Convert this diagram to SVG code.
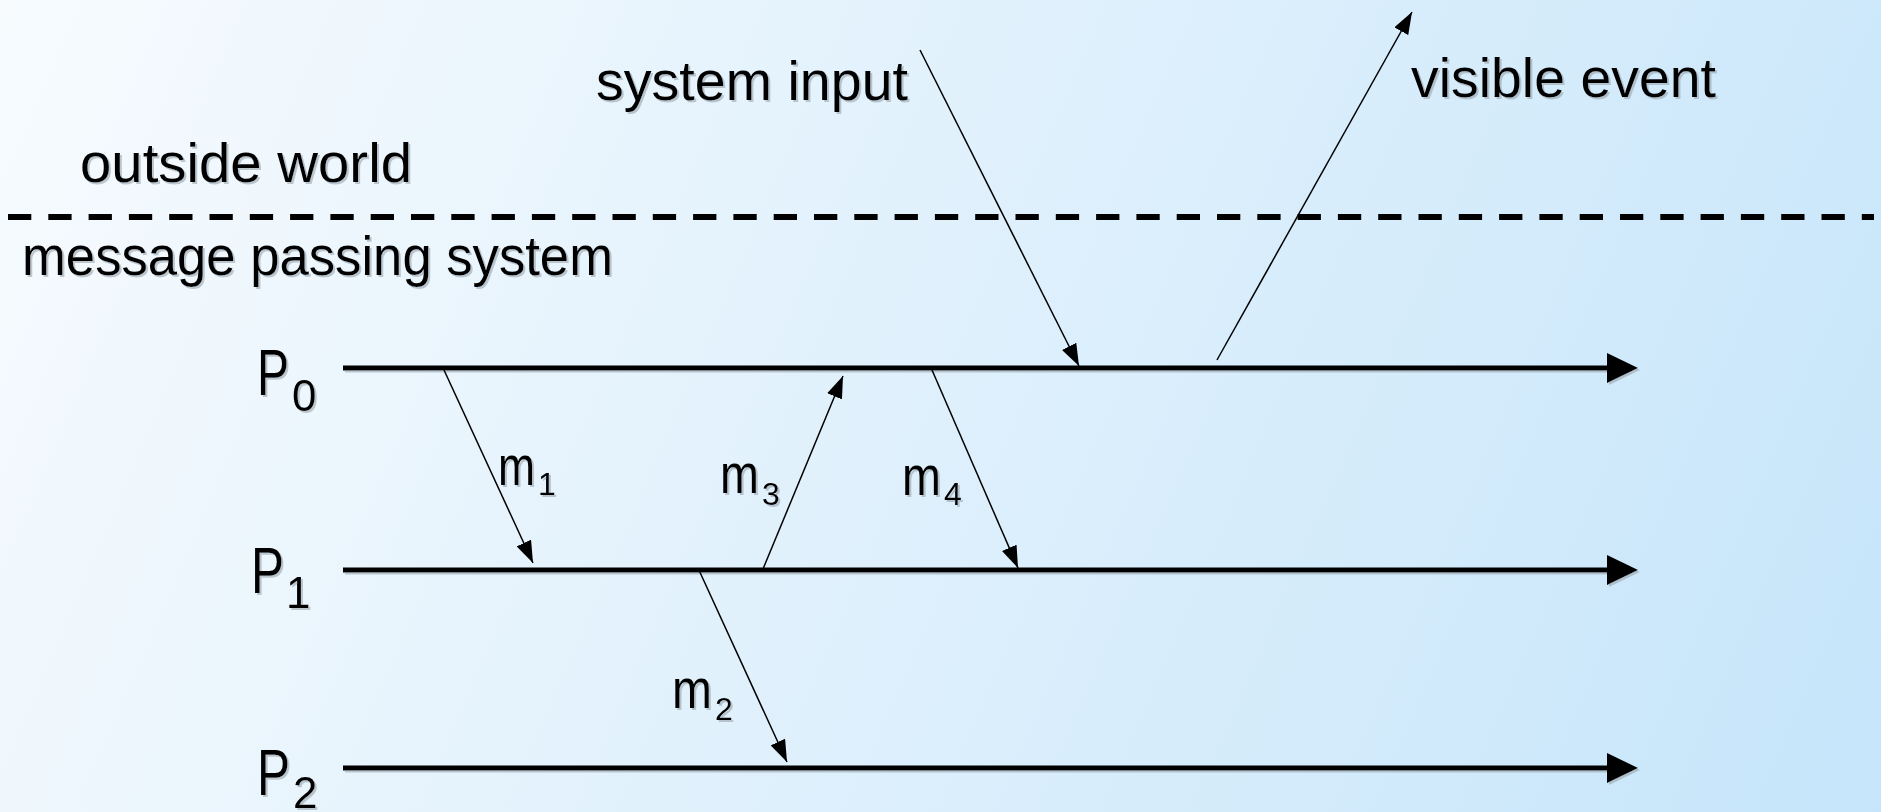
<svg xmlns="http://www.w3.org/2000/svg" width="1881" height="812" viewBox="0 0 1881 812">
  <defs>
    <linearGradient id="bg" x1="0" y1="0" x2="1881" y2="812" gradientUnits="userSpaceOnUse">
      <stop offset="0" stop-color="#f7fbfe"/>
      <stop offset="1" stop-color="#c6e5fa"/>
    </linearGradient>
    <filter id="shadow" x="-5%" y="-20%" width="110%" height="140%">
      <feDropShadow dx="2" dy="2" stdDeviation="0.6" flood-color="#9aa4ad" flood-opacity="0.6"/>
    </filter>
    <marker id="bigArrow" markerUnits="userSpaceOnUse" markerWidth="31" markerHeight="30" refX="23" refY="15" orient="auto">
      <path d="M0,0 L31,15 L0,30 z" fill="#000"/>
    </marker>
    <marker id="smallArrow" markerUnits="userSpaceOnUse" markerWidth="22" markerHeight="16" refX="22" refY="8" orient="auto">
      <path d="M0,0 L22,8 L0,16 z" fill="#000"/>
    </marker>
  </defs>
  <style>
    .lbl { font-family: "Liberation Sans", Arial, sans-serif; font-size: 56px; fill: #000; }
    .sub { font-size: 32px; }
    .psub { font-size: 44px; }
    .proc { stroke: #000; stroke-width: 5; fill: none; marker-end: url(#bigArrow); }
    .msg { stroke: #000; stroke-width: 1.5; fill: none; marker-end: url(#smallArrow); }
    .boundary { stroke: #000; stroke-width: 6; stroke-dasharray: 23.3 17; fill: none; }
  </style>

  <rect x="0" y="0" width="1881" height="812" fill="url(#bg)"/>

  <g id="boundary">
    <line class="boundary" x1="8" y1="217" x2="1874" y2="217"/>
  </g>

  <g id="region-labels" filter="url(#shadow)">
    <text id="outside-world" class="lbl" x="80" y="182" textLength="332" lengthAdjust="spacingAndGlyphs">outside world</text>
    <text id="message-passing-system" class="lbl" x="22" y="275" textLength="591" lengthAdjust="spacingAndGlyphs">message passing system</text>
    <text id="system-input" class="lbl" x="596" y="100" textLength="312" lengthAdjust="spacingAndGlyphs">system input</text>
    <text id="visible-event" class="lbl" x="1411" y="97" textLength="305" lengthAdjust="spacingAndGlyphs">visible event</text>
  </g>

  <g id="P0" filter="url(#shadow)">
    <line class="proc" x1="343" y1="368" x2="1630" y2="368"/>
    <text class="lbl" style="font-size:64px"><tspan x="257" y="395" textLength="32" lengthAdjust="spacingAndGlyphs">P</tspan><tspan class="psub" x="292" y="411">0</tspan></text>
  </g>
  <g id="P1" filter="url(#shadow)">
    <line class="proc" x1="343" y1="570" x2="1630" y2="570"/>
    <text class="lbl" style="font-size:64px"><tspan x="251" y="593" textLength="33" lengthAdjust="spacingAndGlyphs">P</tspan><tspan class="psub" x="286" y="608">1</tspan></text>
  </g>
  <g id="P2" filter="url(#shadow)">
    <line class="proc" x1="343" y1="768" x2="1630" y2="768"/>
    <text class="lbl" style="font-size:64px"><tspan x="257" y="795" textLength="33" lengthAdjust="spacingAndGlyphs">P</tspan><tspan class="psub" x="293" y="808">2</tspan></text>
  </g>

  <g id="connectors">
    <line id="m1" class="msg" x1="444" y1="370" x2="533" y2="563"/>
    <line id="m2" class="msg" x1="698" y1="568" x2="787" y2="762"/>
    <line id="m3" class="msg" x1="763" y1="569" x2="843" y2="376"/>
    <line id="m4" class="msg" x1="932" y1="370" x2="1018" y2="568"/>
    <line id="sys-input" class="msg" x1="920" y1="50" x2="1079" y2="366"/>
    <line id="vis-event" class="msg" x1="1217" y1="360" x2="1412" y2="12"/>
  </g>

  <g id="message-labels" filter="url(#shadow)">
    <text class="lbl"><tspan x="498" y="485" textLength="37" lengthAdjust="spacingAndGlyphs">m</tspan><tspan class="sub" x="538" y="495">1</tspan></text>
    <text class="lbl"><tspan x="672" y="708" textLength="40" lengthAdjust="spacingAndGlyphs">m</tspan><tspan class="sub" x="715" y="720">2</tspan></text>
    <text class="lbl"><tspan x="720" y="493" textLength="39" lengthAdjust="spacingAndGlyphs">m</tspan><tspan class="sub" x="762" y="505">3</tspan></text>
    <text class="lbl"><tspan x="902" y="495" textLength="39" lengthAdjust="spacingAndGlyphs">m</tspan><tspan class="sub" x="944" y="505">4</tspan></text>
  </g>
</svg>
